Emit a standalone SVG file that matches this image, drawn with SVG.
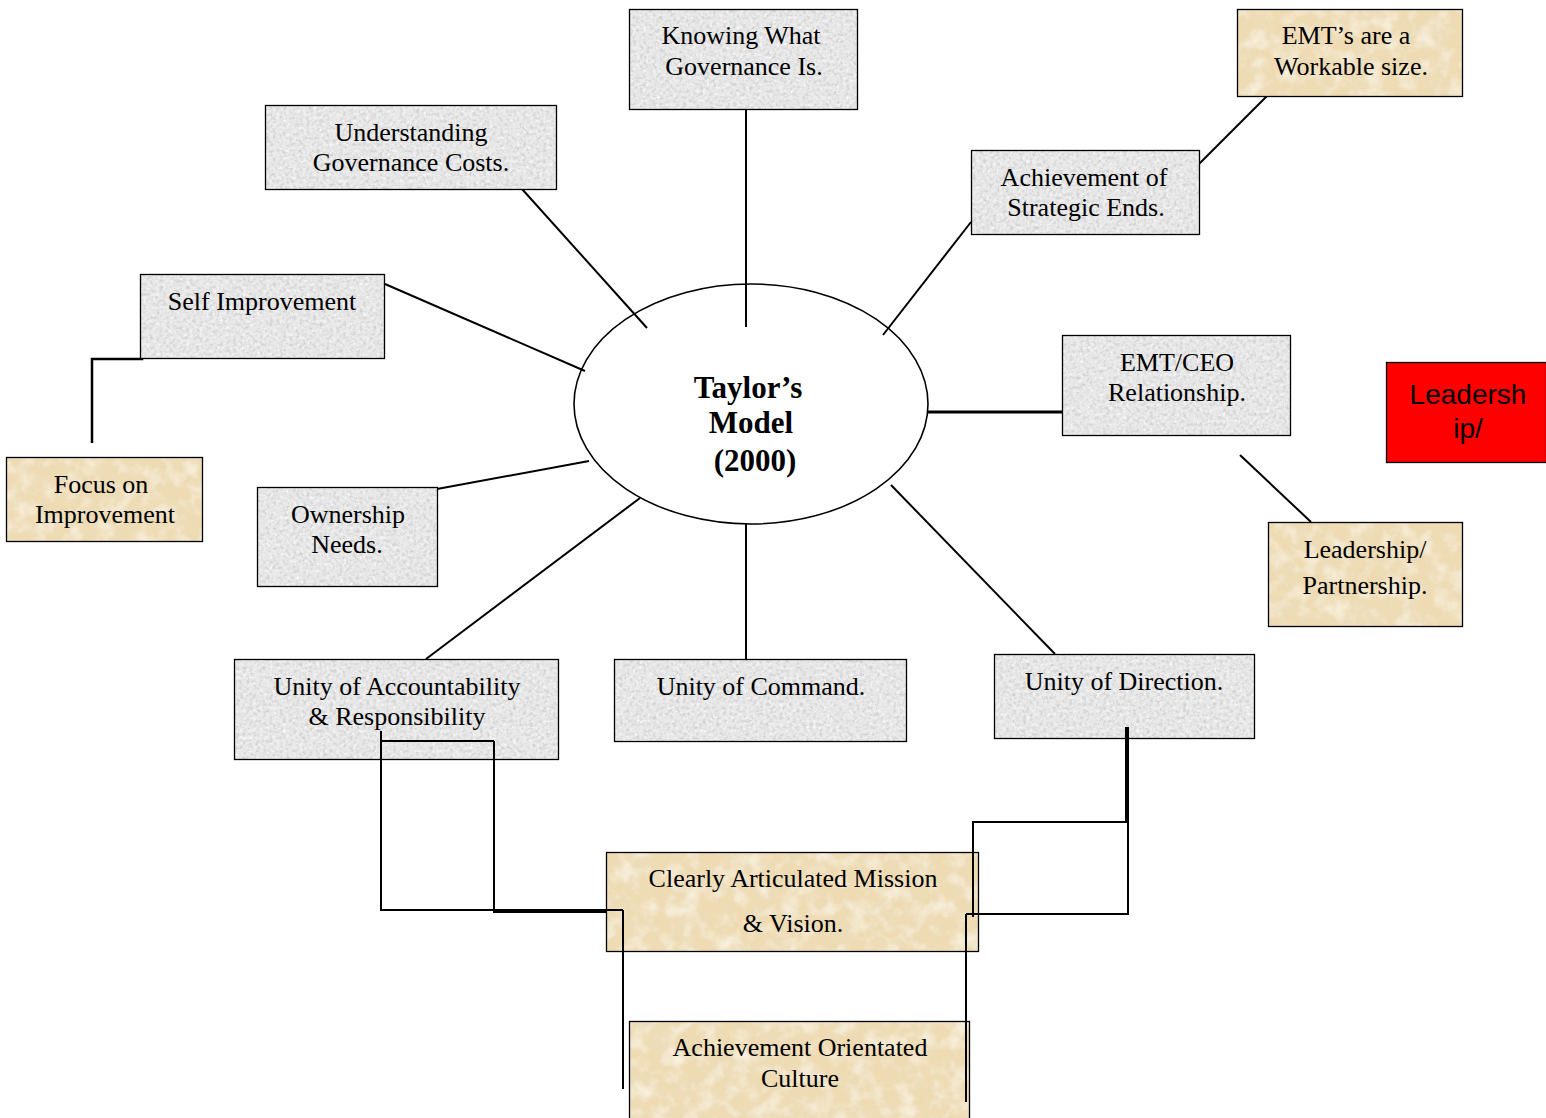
<svg xmlns="http://www.w3.org/2000/svg" width="1546" height="1118" viewBox="0 0 1546 1118">
<defs>
<filter id="granite" x="0" y="0" width="1" height="1">
<feTurbulence type="fractalNoise" baseFrequency="0.3" numOctaves="3" seed="4" result="t"/>
<feColorMatrix in="t" type="matrix" values="0 0 0 0 0.6  0 0 0 0 0.6  0 0 0 0 0.6  2.2 0 0 0 -0.95" result="s"/>
<feComposite in="s" in2="SourceGraphic" operator="in" result="c"/>
<feColorMatrix in="t" type="matrix" values="0 0 0 0 1  0 0 0 0 1  0 0 0 0 1  0 0 -2.2 0 1.0" result="w"/>
<feComposite in="w" in2="SourceGraphic" operator="in" result="c2"/>
<feMerge><feMergeNode in="SourceGraphic"/><feMergeNode in="c"/><feMergeNode in="c2"/></feMerge>
</filter>
<filter id="parch" x="0" y="0" width="1" height="1">
<feTurbulence type="fractalNoise" baseFrequency="0.04" numOctaves="4" seed="9" result="t"/>
<feColorMatrix in="t" type="matrix" values="0 0 0 0 0.84  0 0 0 0 0.73  0 0 0 0 0.52  1.6 0 0 0 -0.7" result="s"/>
<feComposite in="s" in2="SourceGraphic" operator="in" result="c"/>
<feTurbulence type="fractalNoise" baseFrequency="0.06" numOctaves="3" seed="2" result="t2"/>
<feColorMatrix in="t2" type="matrix" values="0 0 0 0 0.97  0 0 0 0 0.93  0 0 0 0 0.83  0 1.6 0 0 -0.7" result="l"/>
<feComposite in="l" in2="SourceGraphic" operator="in" result="c2"/>
<feMerge><feMergeNode in="SourceGraphic"/><feMergeNode in="c"/><feMergeNode in="c2"/></feMerge>
</filter>
<style>
.g{fill:#e9e9e9;filter:url(#granite)}
.p{fill:#eedbb3;filter:url(#parch)}
.b{fill:none;stroke:#000;stroke-width:1.3}
.t{font-family:"Liberation Serif","Times New Roman",serif;font-size:26px;fill:#000;text-anchor:middle}
.tb{font-family:"Liberation Serif","Times New Roman",serif;font-size:31px;font-weight:bold;fill:#000;text-anchor:middle}
.ts{font-family:"Liberation Sans",Arial,sans-serif;font-size:28px;fill:#000;text-anchor:middle}
.c{fill:none;stroke:#000;stroke-width:2}
</style>
</defs>
<rect width="1546" height="1118" fill="#fff"/>

<g id="center">
<ellipse cx="751" cy="404" rx="177" ry="120" fill="#fff" stroke="#000" stroke-width="1.6"/>
<text class="tb" x="748" y="398">Taylor’s</text>
<text class="tb" x="751" y="433">Model</text>
<text class="tb" x="755" y="471">(2000)</text>
</g>

<g id="connectors">
<line class="c" x1="746" y1="109" x2="746" y2="327"/>
<line class="c" x1="522" y1="189" x2="647" y2="328"/>
<line class="c" x1="971" y1="222" x2="883" y2="335"/>
<line class="c" x1="1267" y1="96" x2="1195" y2="168"/>
<line class="c" x1="385" y1="284" x2="585" y2="371"/>
<path class="c" d="M142,275 V359 H92 V443" style="stroke-width:2.5"/>
<line class="c" x1="437" y1="489" x2="589" y2="461"/>
<line class="c" x1="928" y1="412" x2="1062" y2="412" style="stroke-width:2.8"/>
<line class="c" x1="1240" y1="455" x2="1311" y2="522"/>
<line class="c" x1="640" y1="498" x2="426" y2="659"/>
<line class="c" x1="746" y1="524" x2="746" y2="659"/>
<line class="c" x1="891" y1="485" x2="1055" y2="654"/>
<path class="c" d="M381,731 V910 H623 V1089"/>
<path class="c" d="M381,741 H494 V912 H607"/>
<path class="c" d="M1126,727 V822 H973 V917"/>
<path class="c" d="M1128,727 V914 H966 V1102"/>
</g>

<g id="knowing">
<rect class="g" x="629" y="9" width="228" height="100"/><rect class="b" x="629.5" y="9.5" width="228" height="100"/>
<text class="t" x="741" y="44">Knowing What</text>
<text class="t" x="744" y="75">Governance Is.</text>
</g>

<g id="understanding">
<rect class="g" x="265" y="105" width="291" height="84"/><rect class="b" x="265.5" y="105.5" width="291" height="84"/>
<text class="t" x="411" y="141">Understanding</text>
<text class="t" x="411" y="171">Governance Costs.</text>
</g>

<g id="strategic">
<rect class="g" x="971" y="150" width="228" height="84"/><rect class="b" x="971.5" y="150.5" width="228" height="84"/>
<text class="t" x="1084" y="186">Achievement of</text>
<text class="t" x="1086" y="216">Strategic Ends.</text>
</g>

<g id="workable">
<rect class="p" x="1237" y="9" width="225" height="87"/><rect class="b" x="1237.5" y="9.5" width="225" height="87"/>
<text class="t" x="1346" y="44">EMT’s are a</text>
<text class="t" x="1351" y="75">Workable size.</text>
</g>

<g id="self">
<rect class="g" x="140" y="274" width="244" height="84"/><rect class="b" x="140.5" y="274.5" width="244" height="84"/>
<text class="t" x="262" y="310">Self Improvement</text>
</g>

<g id="focus">
<rect class="p" x="6" y="457" width="196" height="84"/><rect class="b" x="6.5" y="457.5" width="196" height="84"/>
<text class="t" x="101" y="493">Focus on</text>
<text class="t" x="105" y="523">Improvement</text>
</g>

<g id="ownership">
<rect class="g" x="257" y="487" width="180" height="99"/><rect class="b" x="257.5" y="487.5" width="180" height="99"/>
<text class="t" x="348" y="523">Ownership</text>
<text class="t" x="347" y="553">Needs.</text>
</g>

<g id="emtceo">
<rect class="g" x="1062" y="335" width="228" height="100"/><rect class="b" x="1062.5" y="335.5" width="228" height="100"/>
<text class="t" x="1177" y="371">EMT/CEO</text>
<text class="t" x="1177" y="401">Relationship.</text>
</g>

<g id="leadership-red">
<rect x="1386.5" y="362.5" width="160" height="100" fill="#ff0000" stroke="#000" stroke-width="1.3"/>
<text class="ts" x="1468" y="404">Leadersh</text>
<text class="ts" x="1468" y="438">ip/</text>
</g>

<g id="partnership">
<rect class="p" x="1268" y="522" width="194" height="104"/><rect class="b" x="1268.5" y="522.5" width="194" height="104"/>
<text class="t" x="1365" y="558">Leadership/</text>
<text class="t" x="1365" y="594">Partnership.</text>
</g>

<g id="accountability">
<rect class="g" x="234" y="659" width="324" height="100"/><rect class="b" x="234.5" y="659.5" width="324" height="100"/>
<text class="t" x="397" y="695">Unity of Accountability</text>
<text class="t" x="397" y="725">&amp; Responsibility</text>
</g>

<g id="command">
<rect class="g" x="614" y="659" width="292" height="82"/><rect class="b" x="614.5" y="659.5" width="292" height="82"/>
<text class="t" x="761" y="695">Unity of Command.</text>
</g>

<g id="direction">
<rect class="g" x="994" y="654" width="260" height="84"/><rect class="b" x="994.5" y="654.5" width="260" height="84"/>
<text class="t" x="1124" y="690">Unity of Direction.</text>
</g>

<g id="mission">
<rect class="p" x="606" y="852" width="372" height="99"/><rect class="b" x="606.5" y="852.5" width="372" height="99"/>
<text class="t" x="793" y="887">Clearly Articulated Mission</text>
<text class="t" x="793" y="932">&amp; Vision.</text>
</g>

<g id="culture">
<rect class="p" x="629" y="1021" width="340" height="100"/><rect class="b" x="629.5" y="1021.5" width="340" height="100"/>
<text class="t" x="800" y="1056">Achievement Orientated</text>
<text class="t" x="800" y="1087">Culture</text>
</g>

<g id="connectors-over">
<line class="c" x1="623" y1="1021" x2="623" y2="1089"/>
<line class="c" x1="966" y1="1021" x2="966" y2="1102"/>
<line class="c" x1="973" y1="852" x2="973" y2="917"/>
<line class="c" x1="966" y1="914" x2="978" y2="914"/>
<line class="c" x1="606" y1="910" x2="623" y2="910"/>
<line class="c" x1="623" y1="910" x2="623" y2="951"/>
<line class="c" x1="966" y1="914" x2="966" y2="951"/>
<line class="c" x1="1126" y1="727" x2="1126" y2="738"/>
<line class="c" x1="1128" y1="727" x2="1128" y2="738"/>
<line class="c" x1="381" y1="731" x2="381" y2="759"/>
<line class="c" x1="381" y1="741" x2="494" y2="741"/>
<line class="c" x1="494" y1="741" x2="494" y2="759"/>
</g>
</svg>
